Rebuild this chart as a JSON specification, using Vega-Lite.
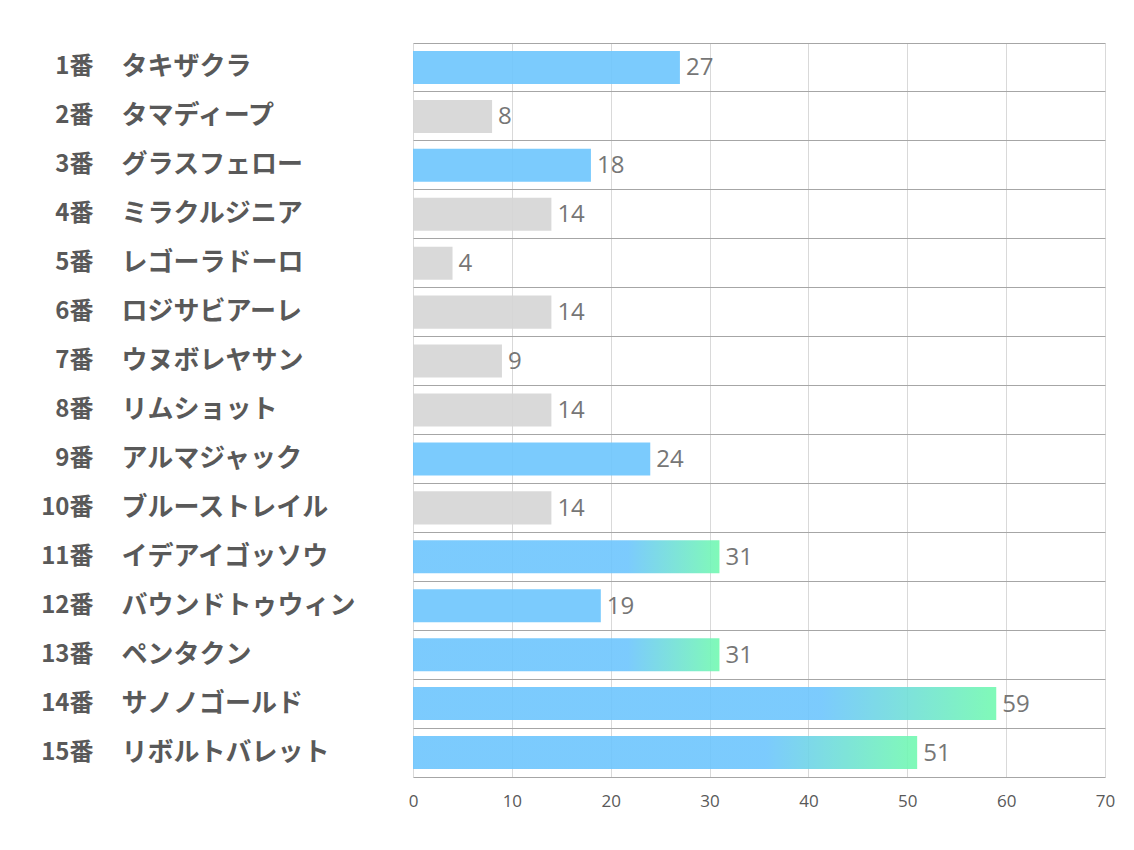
{
  "$schema": "https://vega.github.io/schema/vega-lite/v6.json",
  "width": 692,
  "height": 734,
  "autosize": "none",
  "padding": {"left": 413, "top": 43, "right": 29, "bottom": 73},
  "background": "white",
  "config": {"view": {"stroke": null}, "font": "Noto Sans CJK JP"},
  "data": {
    "values": [
      {"horse": "1番　タキザクラ", "v": 27, "g": "blue"},
      {"horse": "2番　タマディープ", "v": 8, "g": "gray"},
      {"horse": "3番　グラスフェロー", "v": 18, "g": "blue"},
      {"horse": "4番　ミラクルジニア", "v": 14, "g": "gray"},
      {"horse": "5番　レゴーラドーロ", "v": 4, "g": "gray"},
      {"horse": "6番　ロジサビアーレ", "v": 14, "g": "gray"},
      {"horse": "7番　ウヌボレヤサン", "v": 9, "g": "gray"},
      {"horse": "8番　リムショット", "v": 14, "g": "gray"},
      {"horse": "9番　アルマジャック", "v": 24, "g": "blue"},
      {"horse": "10番　ブルーストレイル", "v": 14, "g": "gray"},
      {"horse": "11番　イデアイゴッソウ", "v": 31, "g": "grad"},
      {"horse": "12番　バウンドトゥウィン", "v": 19, "g": "blue"},
      {"horse": "13番　ペンタクン", "v": 31, "g": "grad"},
      {"horse": "14番　サノノゴールド", "v": 59, "g": "grad"},
      {"horse": "15番　リボルトバレット", "v": 51, "g": "grad"}
    ]
  },
  "layer": [
    {
      "mark": {"type": "rule", "strokeOpacity": 0},
      "encoding": {
        "y": {
          "field": "horse", "type": "nominal", "sort": null,
          "scale": {"paddingInner": 0, "paddingOuter": 0},
          "axis": {"orient": "left", "title": null, "labels": false, "ticks": false, "domain": false, "grid": true, "gridColor": "#a6a6a6", "gridWidth": 1, "bandPosition": 0}
        }
      }
    },
    {
      "mark": {"type": "bar", "height": {"band": 0.675}, "opacity": 0.9},
      "encoding": {
        "y": {
          "field": "horse", "type": "nominal", "sort": null,
          "axis": {"orient": "left", "title": null, "ticks": false, "tickSize": 0, "domain": false, "grid": false, "labelAlign": "left", "labelPadding": 292, "labelFontSize": 26, "labelFontWeight": "bold", "labelColor": "#595959", "labelFont": "Noto Sans CJK JP", "labelExpr": "split(datum.label, '　')[1]", "labelLimit": 400}
        },
        "x": {
          "field": "v", "type": "quantitative",
          "scale": {"domain": [0, 70]},
          "axis": {"title": null, "values": [0, 10, 20, 30, 40, 50, 60, 70], "grid": true, "gridColor": "#d9d9d9", "ticks": false, "tickSize": 0, "domain": true, "domainColor": "#a6a6a6", "labelFontSize": 17, "labelColor": "#595959", "labelFont": "Open Sans", "labelPadding": 16, "labelFlush": false}
        },
        "color": {
          "condition": [
            {"test": "datum.g === 'grad'", "value": {"gradient": "linear", "x1": 0, "x2": 1, "y1": 0, "y2": 0, "stops": [{"offset": 0, "color": "#6dc5fd"}, {"offset": 0.7, "color": "#6dc5fd"}, {"offset": 1, "color": "#72f9b0"}]}},
            {"test": "datum.g === 'gray'", "value": "#d5d5d5"}
          ],
          "value": "#6dc5fd"
        }
      }
    },
    {
      "mark": {"type": "text", "align": "left", "baseline": "middle", "dx": 6, "dy": 1, "fontSize": 24, "color": "#767676", "font": "Open Sans"},
      "encoding": {
        "y": {
          "field": "horse", "type": "nominal", "sort": null,
          "axis": {"orient": "left", "title": null, "ticks": false, "tickSize": 0, "domain": false, "grid": false, "labelAlign": "right", "labelPadding": 320, "labelFontSize": 24, "labelFontWeight": "bold", "labelColor": "#595959", "labelFont": "Noto Sans CJK JP", "labelExpr": "split(datum.label, '　')[0]"}
        },
        "x": {"field": "v", "type": "quantitative"},
        "text": {"field": "v", "type": "quantitative"}
      }
    }
  ],
  "resolve": {"axis": {"y": "independent"}}
}
